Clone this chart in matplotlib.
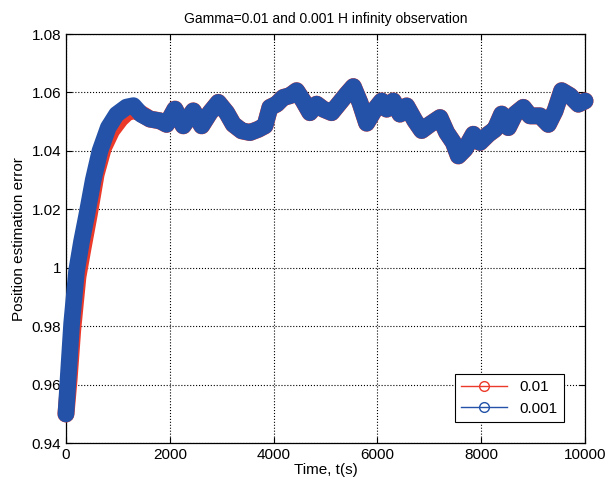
import matplotlib.pyplot as plt
from matplotlib.lines import Line2D

plt.rcParams['font.family'] = ['Liberation Sans', 'DejaVu Sans']

# estimator output, gamma = 0.001
t_001 = [0, 45, 110, 205, 300, 400, 525, 655, 815, 975, 1165, 1300, 1450, 1619,
         1811, 1939, 2100, 2260, 2453, 2614, 2774, 2935, 3095, 3224, 3384, 3545,
         3705, 3834, 3930, 4058, 4187, 4315, 4443, 4572, 4700, 4829, 4957, 5118,
         5279, 5407, 5536, 5665, 5793, 5954, 6082, 6179, 6307, 6435, 6563, 6724,
         6853, 7013, 7206, 7334, 7463, 7559, 7687, 7848, 7976, 8137, 8266, 8394,
         8522, 8651, 8811, 8940, 9133, 9293, 9422, 9550, 9711, 9871, 10000]
err_001 = [0.950, 0.963, 0.981, 0.999, 1.009, 1.018, 1.030, 1.040, 1.048, 1.0525,
           1.055, 1.0555, 1.0525, 1.0509, 1.0503, 1.0491, 1.0543, 1.0486, 1.0537,
           1.0486, 1.0531, 1.0566, 1.0531, 1.0491, 1.0469, 1.0463, 1.0474, 1.0486,
           1.0549, 1.0560, 1.0583, 1.0589, 1.0606, 1.0571, 1.0531, 1.0560, 1.0543,
           1.0531, 1.0566, 1.0594, 1.0620, 1.0565, 1.0495, 1.0543, 1.0571, 1.0543,
           1.0571, 1.0526, 1.0554, 1.0503, 1.0470, 1.0491, 1.0514, 1.0463, 1.0429,
           1.0383, 1.0406, 1.0457, 1.0429, 1.0457, 1.0474, 1.0526, 1.0480, 1.0526,
           1.0549, 1.0520, 1.0520, 1.0491, 1.0537, 1.0606, 1.0589, 1.0560, 1.0571]

# gamma = 0.01 rises a little slower, then follows the same path
t_rise_01 = [0, 60, 130, 230, 330, 450, 580, 720, 880, 1050, 1200, 1350]
err_rise_01 = [0.950, 0.962, 0.979, 0.997, 1.007, 1.0185, 1.032, 1.041, 1.047,
               1.051, 1.0535, 1.0538]
k = t_001.index(1619)
t_01 = t_rise_01 + t_001[k:]
err_01 = err_rise_01 + err_001[k:]

labels = ['0.01', '0.001']
red = '#ec3a2a'
blue = '#2352a8'

fig = plt.figure(figsize=(6.05, 4.86), dpi=100)
ax = fig.add_axes([0.109, 0.088, 0.858, 0.842])

ax.plot(t_01, err_01, color=red, lw=12.3, solid_capstyle='round',
        solid_joinstyle='round', clip_on=False, zorder=3)
ax.plot(t_001, err_001, color=blue, lw=12, solid_capstyle='round',
        solid_joinstyle='round', clip_on=False, zorder=4)

ax.set_xlim(0, 10000)
ax.set_ylim(0.94, 1.08)
ax.set_xticks([0, 2000, 4000, 6000, 8000, 10000])
ax.set_yticks([0.94, 0.96, 0.98, 1.0, 1.02, 1.04, 1.06, 1.08])
ax.set_yticklabels(['0.94', '0.96', '0.98', '1', '1.02', '1.04', '1.06', '1.08'])
ax.tick_params(direction='in', top=True, right=True, labelsize=11, length=4)
ax.grid(True, color='black', linestyle=':', linewidth=0.8)
for s in ax.spines.values():
    s.set_linewidth(0.9)

ax.set_title('Gamma=0.01 and 0.001 H infinity observation', fontsize=10, pad=8)
ax.set_xlabel('Time, t(s)', fontsize=11, labelpad=1)
ax.set_ylabel('Position estimation error', fontsize=11, labelpad=4)

handles = [Line2D([], [], color=red, marker='o', mfc='none', ms=7, lw=1),
           Line2D([], [], color=blue, marker='o', mfc='none', ms=7, lw=1)]
leg = ax.legend(handles, labels, loc='lower right', fontsize=11,
                fancybox=False, edgecolor='black', framealpha=1,
                handlelength=3, borderaxespad=1.4)
leg.get_frame().set_linewidth(0.8)
leg.set_zorder(5)

fig.savefig('out.png', dpi=100)
